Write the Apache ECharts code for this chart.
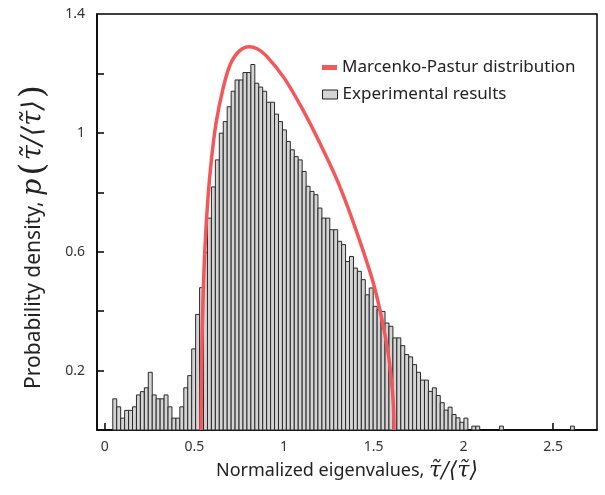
<!DOCTYPE html>
<html>
<head>
<meta charset="utf-8">
<script src="https://cdn.jsdelivr.net/npm/echarts@6/dist/echarts.min.js"></script>
<style>
  html, body { margin: 0; padding: 0; background: #fff; }
  #chart { width: 605px; height: 495px; }
</style>
</head>
<body>
<div id="chart"></div>
<script>
// histogram: bins start at binStart, each binWidth wide
const binStart = 0.045;
const binWidth = 0.022;
const binHeights = [
  0.105, 0.078, 0.040, 0.066, 0.066, 0.078, 0.118, 0.129, 0.142, 0.194,
  0.118, 0.105, 0.105, 0.118, 0.078, 0.040, 0.040, 0.078, 0.142, 0.183,
  0.273, 0.389, 0.479, 0.598, 0.713, 0.818, 0.909, 0.999, 1.038, 1.088,
  1.140, 1.178, 1.178, 1.203, 1.203, 1.230, 1.167, 1.154, 1.140, 1.103,
  1.103, 1.063, 1.038, 1.010, 0.971, 0.943, 0.920, 0.909, 0.870, 0.820,
  0.803, 0.792, 0.747, 0.713, 0.713, 0.674, 0.674, 0.635, 0.624, 0.567,
  0.584, 0.545, 0.534, 0.506, 0.455, 0.478, 0.416, 0.405, 0.399, 0.360,
  0.349, 0.310, 0.310, 0.284, 0.254, 0.246, 0.220, 0.194, 0.168, 0.168,
  0.130, 0.142, 0.116, 0.092, 0.067, 0.077, 0.052, 0.041, 0.026, 0.040,
  0, 0.013, 0.013, 0, 0, 0, 0, 0, 0.013, 0,
  0, 0, 0, 0, 0, 0, 0, 0, 0, 0,
  0, 0, 0, 0, 0, 0, 0.013
];

// Marcenko-Pastur curve, points
const mpX = [0.537, 0.541, 0.546, 0.555, 0.570, 0.590, 0.620, 0.660, 0.700, 0.750,
  0.805, 0.850, 0.900, 1.000, 1.100, 1.200, 1.300, 1.400, 1.500, 1.550,
  1.580, 1.600, 1.610, 1.613];
const mpY = [0, 0.25, 0.39, 0.56, 0.73, 0.88, 1.03, 1.15, 1.23, 1.275,
  1.29, 1.283, 1.26, 1.185, 1.083, 0.965, 0.835, 0.675, 0.49, 0.36,
  0.26, 0.16, 0.08, 0];

const xTicks = [0, 0.5, 1, 1.5, 2, 2.5];
const yTicks = [0.2, 0.4, 0.6, 0.8, 1, 1.2];
const yLabels = [0.2, 0.6, 1, 1.4];

const chart = echarts.init(document.getElementById('chart'));

const barData = [];
binHeights.forEach((h, i) => {
  if (h > 0) barData.push([binStart + i * binWidth, binStart + (i + 1) * binWidth, h]);
});
const lineData = mpX.map((x, i) => [x, mpY[i]]);

function renderBar(params, api) {
  const top = api.coord([api.value(0), api.value(2)]);
  const bottom = api.coord([api.value(1), 0]);
  return {
    type: 'rect',
    shape: { x: top[0], y: top[1], width: bottom[0] - top[0], height: bottom[1] - top[1] },
    style: { fill: '#d4d4d4', stroke: '#2a2a2a', lineWidth: 1 }
  };
}

const font = 'Noto Sans';

const option = {
  animation: false,
  grid: {
    left: 97, right: 8, top: 14, bottom: 65,
    show: true, borderColor: '#000', borderWidth: 1.5
  },
  legend: [
    {
      left: 322, top: 59, padding: 0, itemWidth: 15, itemHeight: 5,
      textStyle: { fontFamily: font, fontSize: 17, color: '#222' },
      data: [{ name: 'Marcenko-Pastur distribution', icon: 'rect', itemStyle: { color: '#f4575a' } }]
    },
    {
      left: 322, top: 86, padding: 0, itemWidth: 15, itemHeight: 9,
      textStyle: { fontFamily: font, fontSize: 17, color: '#222' },
      data: [{ name: 'Experimental results', icon: 'rect',
        itemStyle: { color: '#d4d4d4', borderColor: '#222', borderWidth: 1 } }]
    }
  ],
  xAxis: {
    type: 'value', min: -0.043, max: 2.745,
    splitLine: { show: false },
    axisLine: { onZero: false, lineStyle: { color: '#000', width: 1.5 } },
    axisTick: { inside: true, length: 7, customValues: xTicks, lineStyle: { color: '#000', width: 1.5 } },
    axisLabel: { customValues: xTicks, margin: 10, fontFamily: font, fontSize: 14, color: '#333' },
    name: '{t|Normalized eigenvalues, }{m|τ̃/⟨τ̃⟩}',
    nameLocation: 'middle', nameGap: 30,
    nameTextStyle: {
      rich: {
        t: { fontFamily: font, fontSize: 18, color: '#222' },
        m: { fontFamily: 'DejaVu Serif', fontStyle: 'italic', fontSize: 22, color: '#222' }
      }
    }
  },
  yAxis: {
    type: 'value', min: 0, max: 1.4,
    splitLine: { show: false },
    axisLine: { onZero: false, lineStyle: { color: '#000', width: 1.5 } },
    axisTick: { inside: true, length: 7, customValues: yTicks, lineStyle: { color: '#000', width: 1.5 } },
    axisLabel: { customValues: yLabels, margin: 12, fontFamily: font, fontSize: 14, color: '#333' },
    name: '{t|Probability density, }{m|p}{b|(}{m|τ̃/⟨τ̃⟩}{e|)}',
    nameLocation: 'middle', nameGap: 46, nameRotate: 90,
    nameTextStyle: {
      rich: {
        t: { fontFamily: font, fontSize: 21, color: '#222' },
        m: { fontFamily: 'DejaVu Serif', fontStyle: 'italic', fontSize: 27, color: '#222' },
        b: { fontFamily: 'DejaVu Serif', fontSize: 34, color: '#222', padding: [0, 2, 0, 3] },
        e: { fontFamily: 'DejaVu Serif', fontSize: 34, color: '#222', padding: [0, 30, 0, 2] }
      }
    }
  },
  series: [
    {
      name: 'Experimental results',
      type: 'custom',
      renderItem: renderBar,
      encode: { x: [0, 1], y: 2 },
      itemStyle: { color: '#d4d4d4' },
      data: barData,
      z: 2
    },
    {
      name: 'Marcenko-Pastur distribution',
      type: 'line',
      data: lineData,
      smooth: 0.3,
      showSymbol: false,
      lineStyle: { color: '#f4575a', width: 3.5 },
      itemStyle: { color: '#f4575a' },
      z: 3
    }
  ]
};

chart.setOption(option);
</script>
</body>
</html>
